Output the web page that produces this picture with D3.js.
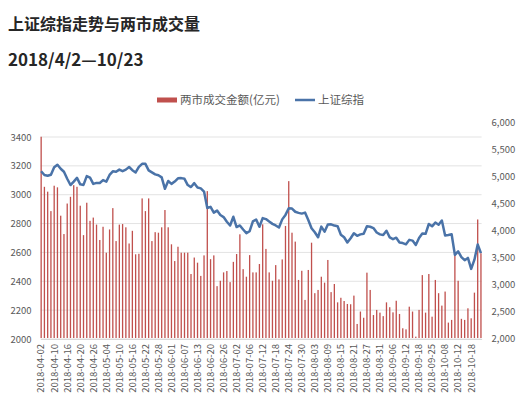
<!DOCTYPE html>
<html>
<head>
<meta charset="utf-8">
<script src="https://cdn.jsdelivr.net/npm/d3@7"></script>
<style>
  body { margin: 0; background: #fff; }
  text { font-family: "Noto Sans CJK SC", "Noto Sans", sans-serif; }
</style>
</head>
<body>
<div id="vis"></div>
<script>
/* geometry */
let width = 531;
let height = 405;
let boundsX = [40.5, 481.6];

/* data: trading days 2018-04-02 .. 2018-10-23 */
let dates = [
  "2018-04-02","2018-04-03","2018-04-04","2018-04-09","2018-04-10","2018-04-11","2018-04-12","2018-04-13",
  "2018-04-16","2018-04-17","2018-04-18","2018-04-19","2018-04-20","2018-04-23","2018-04-24","2018-04-25",
  "2018-04-26","2018-04-27","2018-05-02","2018-05-03","2018-05-04","2018-05-07","2018-05-08","2018-05-09",
  "2018-05-10","2018-05-11","2018-05-14","2018-05-15","2018-05-16","2018-05-17","2018-05-18","2018-05-21",
  "2018-05-22","2018-05-23","2018-05-24","2018-05-25","2018-05-28","2018-05-29","2018-05-30","2018-05-31",
  "2018-06-01","2018-06-04","2018-06-05","2018-06-06","2018-06-07","2018-06-08","2018-06-11","2018-06-12",
  "2018-06-13","2018-06-14","2018-06-15","2018-06-19","2018-06-20","2018-06-21","2018-06-22","2018-06-25",
  "2018-06-26","2018-06-27","2018-06-28","2018-06-29","2018-07-02","2018-07-03","2018-07-04","2018-07-05",
  "2018-07-06","2018-07-09","2018-07-10","2018-07-11","2018-07-12","2018-07-13","2018-07-16","2018-07-17",
  "2018-07-18","2018-07-19","2018-07-20","2018-07-23","2018-07-24","2018-07-25","2018-07-26","2018-07-27",
  "2018-07-30","2018-07-31","2018-08-01","2018-08-02","2018-08-03","2018-08-06","2018-08-07","2018-08-08",
  "2018-08-09","2018-08-10","2018-08-13","2018-08-14","2018-08-15","2018-08-16","2018-08-17","2018-08-20",
  "2018-08-21","2018-08-22","2018-08-23","2018-08-24","2018-08-27","2018-08-28","2018-08-29","2018-08-30",
  "2018-08-31","2018-09-03","2018-09-04","2018-09-05","2018-09-06","2018-09-07","2018-09-10","2018-09-11",
  "2018-09-12","2018-09-13","2018-09-14","2018-09-17","2018-09-18","2018-09-19","2018-09-20","2018-09-21",
  "2018-09-25","2018-09-26","2018-09-27","2018-09-28","2018-10-08","2018-10-09","2018-10-10","2018-10-11",
  "2018-10-12","2018-10-15","2018-10-16","2018-10-17","2018-10-18","2018-10-19","2018-10-22","2018-10-23"
];

/* 两市成交金额 (亿元), right axis */
let turnover = [
  5727,4800,4710,4350,4820,4790,4265,3925,4490,4615,4830,4800,4450,3905,4505,4170,
  4230,4100,3815,4060,3580,4010,4405,3795,4100,4110,4050,3750,3985,3550,3560,4585,
  4350,4585,3795,3960,3950,4050,4370,4050,3735,3425,3690,3580,3580,3580,3185,3490,
  3395,3150,3530,4720,3460,3530,2960,3060,3215,3240,3035,3410,3555,3920,3275,3135,
  3535,3215,3215,3370,4105,3650,3215,3060,3350,3085,3455,4075,4905,3950,3785,3075,
  3245,2705,3260,3765,2830,2890,3135,3025,3445,2850,3000,2660,2745,2685,2630,2625,
  2785,2260,2490,2375,3210,2890,2425,2520,2470,2405,2660,2570,2475,2690,2445,2180,
  2160,2580,2490,2025,2520,3165,2470,3185,2395,3075,2830,2600,2860,2285,2335,3535,
  3060,2355,2335,2550,2365,2840,4195,3570
];

/* 上证综指, left axis */
let sseIndex = [
  3163,3137,3131,3138,3190,3208,3180,3159,3111,3067,3091,3117,3072,3068,3129,3118,3075,3082,
  3081,3101,3091,3137,3162,3159,3174,3163,3174,3192,3170,3154,3193,3214,3214,3169,3155,3141,
  3135,3120,3041,3095,
  3075,3091,3114,3115,3110,3067,3053,3080,3050,3044,3022,2908,2916,2876,2890,2859,2845,2813,
  2787,2847,
  2776,2787,2759,2734,2747,2815,2828,2778,2838,2831,2814,2798,2787,2773,2829,2860,2906,2904,
  2882,2874,2869,2876,
  2825,2768,2740,2705,2779,2744,2794,2795,2786,2781,2723,2705,2669,2698,2733,2715,2725,2729,
  2781,2778,2769,2738,2725,
  2721,2750,2704,2692,2702,2669,2665,2656,2687,2682,2652,2700,2731,2729,2797,2781,2807,2792,
  2821,
  2717,2721,2726,2583,2607,2568,2546,2562,2486,2550,2655,2595
];

let leftTicks = [2000, 2200, 2400, 2600, 2800, 3000, 3200, 3400];
let rightTicks = [2000, 2500, 3000, 3500, 4000, 4500, 5000, 5500, 6000];
let dateTicks = dates.filter((d, i) => i % 4 === 0);

/* scales */
let x = d3.scaleBand()
  .domain(dates)
  .range(boundsX)
  .paddingInner(0.6);
let yL = d3.scaleLinear().domain([2000, 3400]).range([339, 137]);
let yR = d3.scaleLinear().domain([2000, 6000]).range([338, 122]);

let barColor = "#c0504d";
let lineColor = "#4a73a8";
let textColor = "#595959";

let svg = d3.select("#vis").append("svg")
  .attr("width", width)
  .attr("height", height);

/* titles */
svg.append("text")
  .attr("x", 8).attr("y", 30)
  .attr("font-size", 16).attr("font-weight", "bold")
  .attr("fill", "#262626")
  .text("上证综指走势与两市成交量");
svg.append("text")
  .attr("x", 8).attr("y", 66)
  .attr("font-size", 17).attr("font-weight", "bold")
  .attr("fill", "#262626")
  .text("2018/4/2—10/23");

/* legend */
let lg = svg.append("g").attr("font-size", 11.5).attr("fill", textColor);
lg.append("rect")
  .attr("x", 157).attr("y", 97.5).attr("width", 20).attr("height", 5)
  .attr("fill", barColor);
lg.append("text").attr("x", 180).attr("y", 104).text("两市成交金额(亿元)");
lg.append("line")
  .attr("x1", 295).attr("x2", 315).attr("y1", 100).attr("y2", 100)
  .attr("stroke", lineColor).attr("stroke-width", 2.5);
lg.append("text").attr("x", 318).attr("y", 104).text("上证综指");

/* gridlines */
svg.append("g")
  .selectAll("line")
  .data(leftTicks)
  .join("line")
    .attr("x1", boundsX[0])
    .attr("x2", boundsX[1])
    .attr("y1", d => yL(d))
    .attr("y2", d => yL(d))
    .attr("stroke", "#e3e3e3")
    .attr("stroke-width", 1);

/* left axis */
let axL = svg.append("g")
  .attr("transform", "translate(" + boundsX[0] + ",0)")
  .call(d3.axisLeft(yL).tickValues(leftTicks).tickSize(0).tickPadding(9).tickFormat(d3.format("d")));
axL.select(".domain").remove();
axL.selectAll("text").attr("fill", textColor).attr("font-size", 9.5)
  .attr("font-family", "\"Noto Sans CJK SC\", sans-serif");

/* right axis */
let axR = svg.append("g")
  .attr("transform", "translate(" + boundsX[1] + ",0)")
  .call(d3.axisRight(yR).tickValues(rightTicks).tickSize(0).tickPadding(10).tickFormat(d3.format(",")));
axR.select(".domain").remove();
axR.selectAll("text").attr("fill", textColor).attr("font-size", 9.5)
  .attr("font-family", "\"Noto Sans CJK SC\", sans-serif");

/* bars */
svg.append("g")
  .selectAll("rect")
  .data(d3.zip(dates, turnover))
  .join("rect")
    .attr("x", d => x(d[0]))
    .attr("width", x.bandwidth())
    .attr("y", d => yR(d[1]))
    .attr("height", d => yR(2000) - yR(d[1]))
    .attr("fill", barColor);

/* bottom axis */
let axB = svg.append("g")
  .attr("transform", "translate(0," + yL(2000) + ")")
  .call(d3.axisBottom(x).tickValues(dateTicks).tickSize(0).tickPadding(0));
axB.select(".domain")
  .attr("stroke", "#d9d9d9");
axB.selectAll("text")
  .attr("fill", textColor)
  .attr("font-size", 9.5)
  .attr("font-family", "\"Noto Sans CJK SC\", sans-serif")
  .attr("text-anchor", "end")
  .attr("dy", "0.35em")
  .attr("transform", "translate(0,5) rotate(-90)")
  .attr("x", 0)
  .attr("y", 0);

/* index line */
svg.append("path")
  .datum(d3.zip(dates, sseIndex))
  .attr("fill", "none")
  .attr("stroke", lineColor)
  .attr("stroke-width", 2.5)
  .attr("stroke-linejoin", "round")
  .attr("d", d3.line()
    .x(d => x(d[0]) + x.bandwidth() / 2)
    .y(d => yL(d[1])));
</script>
</body>
</html>
